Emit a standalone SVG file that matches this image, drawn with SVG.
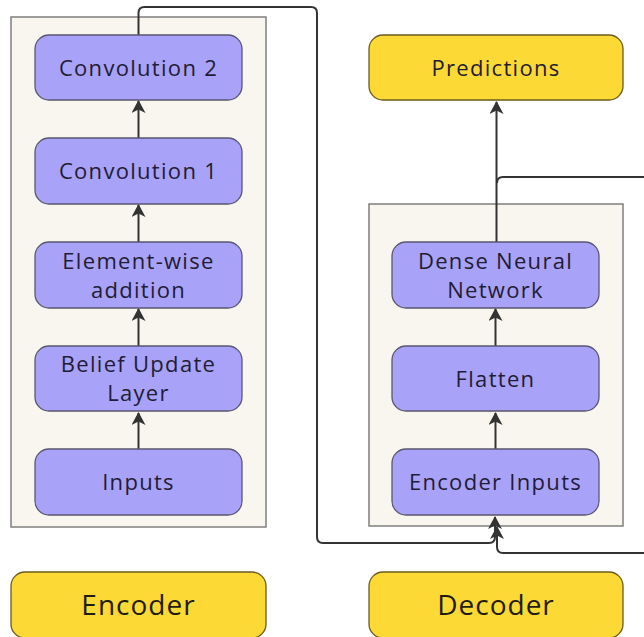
<svg xmlns="http://www.w3.org/2000/svg" width="644" height="637" viewBox="0 0 644 637">
<style>
.cl{fill:#f9f6ef;stroke:#7f7f7f;stroke-width:1.5}
.n{fill:#a9a2f9;stroke:#5a5670;stroke-width:1.3}
.y{fill:#fcd934;stroke:#6a5a20;stroke-width:1.3}
.t{font-family:"Open Sans","Liberation Sans",sans-serif;font-size:22px;font-weight:500;letter-spacing:1.3px;fill:#1f1c33;text-anchor:middle}
.b{font-family:"Open Sans","Liberation Sans",sans-serif;font-size:28px;font-weight:500;letter-spacing:1px;fill:#1f1c12;text-anchor:middle}
.e{fill:none;stroke:#333;stroke-width:2}
</style>
<defs>
<marker id="ah" markerWidth="13" markerHeight="14" refX="12" refY="7" orient="auto" markerUnits="userSpaceOnUse">
<path d="M0,0 L13,7 L0,14 L3.5,7 Z" fill="#333"/>
</marker>
</defs>
<rect class="cl" x="11" y="17" width="255" height="510"/>
<rect class="cl" x="369" y="204" width="254" height="322"/>
<g id="connectors">
<path class="e" d="M138.5,449 V413" marker-end="url(#ah)"/>
<path class="e" d="M138.5,346 V309" marker-end="url(#ah)"/>
<path class="e" d="M138.5,242 V205" marker-end="url(#ah)"/>
<path class="e" d="M138.5,138 V101" marker-end="url(#ah)"/>
<path class="e" d="M138.5,35 V13 Q138.5,7 144.5,7 H311 Q317,7 317,13 V537 Q317,543 323,543 H489 Q495,543 495,537 V517" marker-end="url(#ah)"/>
<path class="e" d="M644,553 H503 Q497,553 497,547 V527" marker-end="url(#ah)"/>
<path class="e" d="M495.5,449 V413" marker-end="url(#ah)"/>
<path class="e" d="M495.5,346 V309" marker-end="url(#ah)"/>
<path class="e" d="M496.5,242 V102" marker-end="url(#ah)"/>
<path class="e" d="M644,177 H503 Q497,177 497,183"/>
</g>
<g id="conv2"><rect class="n" x="35" y="35" width="207" height="65" rx="14"/><text class="t" x="138.5" y="76">Convolution 2</text></g>
<g id="conv1"><rect class="n" x="35" y="138" width="207" height="66" rx="14"/><text class="t" x="138.5" y="179">Convolution 1</text></g>
<g id="elem"><rect class="n" x="35" y="242" width="207" height="66" rx="14"/><text class="t" x="138.5" y="269">Element-wise</text><text class="t" x="138.5" y="298">addition</text></g>
<g id="belief"><rect class="n" x="35" y="346" width="207" height="65" rx="14"/><text class="t" x="138.5" y="372">Belief Update</text><text class="t" x="138.5" y="401">Layer</text></g>
<g id="inputs"><rect class="n" x="35" y="449" width="207" height="66" rx="14"/><text class="t" x="138.5" y="490">Inputs</text></g>
<g id="pred"><rect class="y" x="369" y="35" width="254" height="65" rx="14"/><text class="t" x="496" y="76">Predictions</text></g>
<g id="dense"><rect class="n" x="392" y="242" width="207" height="66" rx="14"/><text class="t" x="495.5" y="269">Dense Neural</text><text class="t" x="495.5" y="298">Network</text></g>
<g id="flatten"><rect class="n" x="392" y="346" width="207" height="65" rx="14"/><text class="t" x="495.5" y="387">Flatten</text></g>
<g id="encin"><rect class="n" x="392" y="449" width="207" height="66" rx="14"/><text class="t" x="495.5" y="490">Encoder Inputs</text></g>
<g id="encoder"><rect class="y" x="11" y="572" width="255" height="66" rx="14"/><text class="b" x="138.5" y="615">Encoder</text></g>
<g id="decoder"><rect class="y" x="369" y="572" width="254" height="66" rx="14"/><text class="b" x="496" y="615">Decoder</text></g>
</svg>
